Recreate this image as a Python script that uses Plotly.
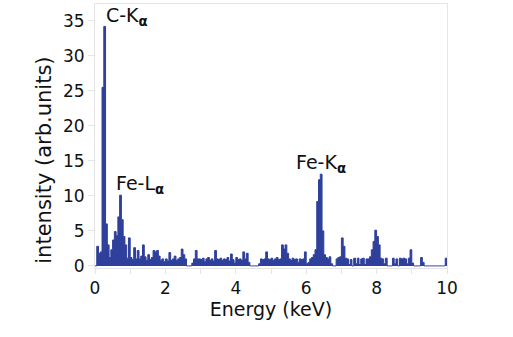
import numpy as np
import plotly.graph_objects as go

# EDS spectrum, bin width 0.05 keV, bins start at 0.00 keV
bin_width = 0.05
counts = [
    0, 2.8, 1.8, 2.0, 25.5, 34.2, 6.0, 3.0, 1.2, 2.3,          # 0.0-0.5
    3.7, 4.9, 4.3, 7.0, 10.1, 6.6, 4.2, 3.0, 1.1, 4.0,         # 0.5-1.0
    1.2, 0.9, 2.6, 1.0, 2.2, 1.0, 1.4, 3.0, 1.3, 0.8,          # 1.0-1.5
    1.6, 0.9, 1.2, 2.2, 2.0, 2.2, 1.4, 0.8, 1.0, 0.6,          # 1.5-2.0
    1.0, 0.7, 1.9, 0.8, 1.0, 1.4, 0.8, 1.0, 1.2, 2.4,          # 2.0-2.5
    1.6, 1.0, 0, 0, 0, 0.4, 1.0, 2.2, 1.0, 1.0,                # 2.5-3.0
    0.9, 1.1, 0.6, 1.0, 1.2, 0.8, 1.0, 0.7, 2.2, 1.0,          # 3.0-3.5
    0.9, 1.1, 0.8, 1.0, 0.9, 1.2, 0.7, 1.7, 0.9, 0.4,          # 3.5-4.0
    1.2, 0.9, 1.0, 0.8, 2.0, 1.0, 1.8, 0.5, 0, 0,              # 4.0-4.5
    0, 0, 0, 0.3, 1.0, 0.9, 1.0, 2.0, 1.0, 0.9,                # 4.5-5.0
    1.1, 0.8, 1.0, 1.2, 0.9, 1.0, 3.0, 2.4, 3.0, 1.8,          # 5.0-5.5
    1.0, 0.8, 1.1, 0.9, 1.0, 0.5, 1.0, 0.9, 1.0, 2.0,          # 5.5-6.0
    0.3, 0.5, 1.0, 1.2, 1.6, 2.3, 9.2, 12.3, 13.1, 5.0,        # 6.0-6.5
    1.6, 1.2, 1.0, 1.3, 0.3, 0, 0, 1.0, 1.2, 1.3,              # 6.5-7.0
    4.0, 2.8, 1.1, 1.0, 0.2, 0.9, 0, 1.1, 0.3, 1.1,            # 7.0-7.5
    0.2, 1.0, 1.1, 0.2, 1.0, 1.0, 1.3, 2.3, 3.5, 5.1,          # 7.5-8.0
    4.2, 3.0, 1.1, 1.0, 0.3, 1.1, 0, 0, 0, 1.1,                # 8.0-8.5
    0.3, 1.0, 0, 1.1, 1.0, 1.1, 1.0, 0.3, 1.1, 2.3,            # 8.5-9.0
    0.4, 0, 0, 0, 0, 1.2, 0.5, 0, 0, 0,                        # 9.0-9.5
    0, 0, 0, 0, 0, 0, 0, 0, 0, 1.1,                            # 9.5-10.0
]

x_ticks = [0, 2, 4, 6, 8, 10]
y_ticks = [0, 5, 10, 15, 20, 25, 30, 35]
x_title = "Energy (keV)"
y_title = "intensity (arb.units)"
peak_labels = ["C-K<sub><b>α</b></sub>", "Fe-L<sub><b>α</b></sub>", "Fe-K<sub><b>α</b></sub>"]
peak_label_x = [0.25, 0.55, 5.66]
peak_label_y = [35.6, 11.6, 14.6]

n = len(counts)
edges = np.arange(n + 1) * bin_width
ys = list(counts) + [counts[-1]]

color = "#2E3F9C"
fig = go.Figure()
fig.add_trace(go.Scatter(
    x=edges, y=ys, mode="lines", line=dict(color=color, width=1, shape="hv"),
    fill="tozeroy", fillcolor=color, hoverinfo="skip", showlegend=False,
))

font_family = "DejaVu Sans, Verdana, sans-serif"
for t, xx, yy in zip(peak_labels, peak_label_x, peak_label_y):
    fig.add_annotation(x=xx, y=yy, text=t, showarrow=False, xanchor="left",
                       yanchor="middle", font=dict(size=19, color="#111111", family=font_family))

# y-axis title as a rotated annotation (placed slightly below the plot centre, as in the original)
fig.add_annotation(xref="paper", yref="paper", x=-0.145, y=0.41, text=y_title,
                   textangle=-90, showarrow=False, xanchor="center", yanchor="middle",
                   font=dict(size=21, color="#111111", family=font_family))

fig.update_layout(
    width=513, height=337,
    margin=dict(l=95, r=66, t=4, b=69),
    paper_bgcolor="white", plot_bgcolor="white",
    font=dict(family=font_family, color="#111111"),
)
fig.update_xaxes(
    range=[0, 10], tickvals=x_ticks, ticktext=[str(v) for v in x_ticks],
    showgrid=False, zeroline=False,
    showline=True, linecolor="#e4e4e4", linewidth=1, mirror=True,
    ticks="outside", ticklen=5, tickcolor="#e4e4e4",
    minor=dict(dtick=1, ticks="outside", ticklen=5, tickcolor="#e4e4e4"),
    tickfont=dict(size=17), title=dict(text=x_title, font=dict(size=19), standoff=0),
)
fig.update_yaxes(
    range=[-0.3, 37.4], tickvals=y_ticks, ticktext=[str(v) for v in y_ticks],
    showgrid=False, zeroline=False,
    showline=True, linecolor="#e4e4e4", linewidth=1, mirror=True,
    ticks="outside", ticklen=6, tickcolor="#e4e4e4",
    tickfont=dict(size=17),
)

fig.write_html("out.html")
